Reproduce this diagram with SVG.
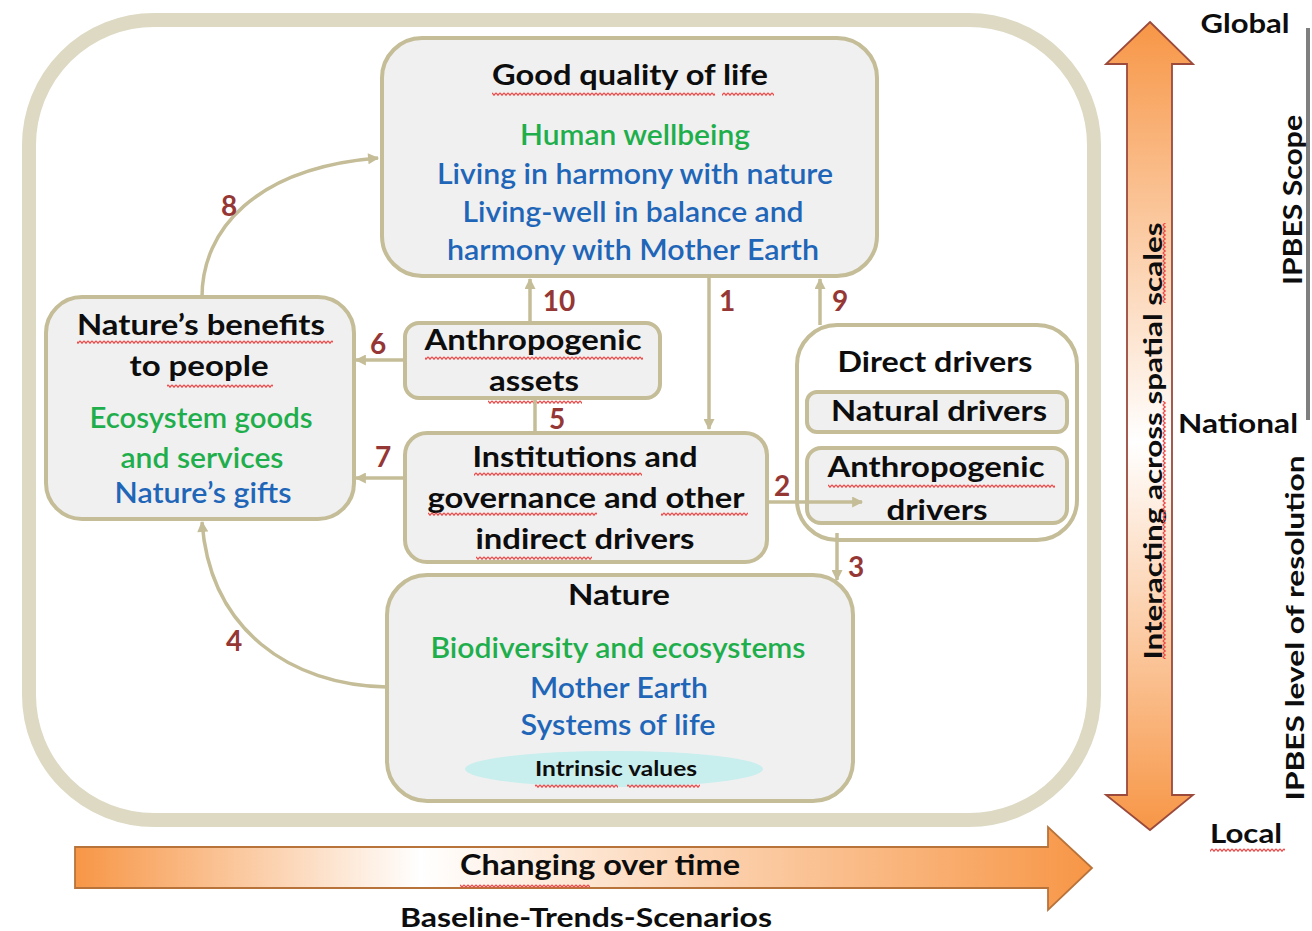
<svg xmlns="http://www.w3.org/2000/svg" width="1312" height="931" viewBox="0 0 1312 931">
<defs>
<style>
.box{fill:#f0f0f0;stroke:#c4bd97;stroke-width:4}
.boxw{fill:#ffffff;stroke:#c4bd97;stroke-width:4}
.t{font-family:Lato,"Liberation Sans",Arial,sans-serif;text-anchor:middle;font-weight:bold}
.k{fill:#0d0d0d;font-size:28px}
.g{fill:#1fae4c;font-size:28px;font-weight:600}
.b{fill:#1f66b8;font-size:28px;font-weight:600}
.n{fill:#953735;font-size:28px}
.c{fill:none;stroke:#c4bd97;stroke-width:3.5}
.sq{fill:url(#sq)}
</style>
<marker id="ah" viewBox="0 0 10 10" refX="9" refY="5" markerWidth="13" markerHeight="11" markerUnits="userSpaceOnUse" orient="auto">
<path d="M0,0 L10,5 L0,10 z" fill="#c4bd97"/>
</marker>
<linearGradient id="hg" gradientUnits="userSpaceOnUse" x1="75" y1="0" x2="1092" y2="0">
<stop offset="0" stop-color="#f79646"/>
<stop offset="0.34" stop-color="#ffffff"/>
<stop offset="1" stop-color="#f79646"/>
</linearGradient>
<linearGradient id="vg" gradientUnits="userSpaceOnUse" x1="0" y1="22" x2="0" y2="830">
<stop offset="0" stop-color="#f79646"/>
<stop offset="0.52" stop-color="#ffffff"/>
<stop offset="1" stop-color="#f79646"/>
</linearGradient>
<pattern id="sq" width="4" height="4" patternUnits="userSpaceOnUse">
<path d="M0,0.8 L2,3.2 L4,0.8" fill="none" stroke="#f04848" stroke-width="1.3"/>
</pattern>
</defs>
<rect width="1312" height="931" fill="#ffffff"/>

<g id="frame">
<rect x="29" y="20" width="1065" height="800" rx="125" ry="125" fill="none" stroke="#ddd9c3" stroke-width="14"/>
</g>

<g id="node-good-quality-of-life">
<rect class="box" x="382" y="38" width="495" height="238" rx="40"/>
<text class="t k" x="630" y="85" textLength="276" lengthAdjust="spacingAndGlyphs">Good quality of life</text>
<rect class="sq" x="492" y="92" width="223" height="4"/>
<rect class="sq" x="722" y="92" width="52" height="4"/>
<text class="t g" x="635" y="145" textLength="230" lengthAdjust="spacingAndGlyphs">Human wellbeing</text>
<text class="t b" x="635" y="184" textLength="396" lengthAdjust="spacingAndGlyphs">Living in harmony with nature</text>
<text class="t b" x="633" y="222" textLength="341" lengthAdjust="spacingAndGlyphs">Living-well in balance and</text>
<text class="t b" x="633" y="260" textLength="372" lengthAdjust="spacingAndGlyphs">harmony with Mother Earth</text>
</g>

<g id="node-natures-benefits">
<rect class="box" x="46" y="297" width="308" height="222" rx="36"/>
<text class="t k" x="201" y="335" textLength="248" lengthAdjust="spacingAndGlyphs">Nature’s benefits</text>
<rect class="sq" x="77" y="340" width="256" height="4"/>
<text class="t k" x="199" y="376" textLength="139" lengthAdjust="spacingAndGlyphs">to people</text>
<rect class="sq" x="167" y="384" width="106" height="4"/>
<text class="t g" x="201" y="428" textLength="223" lengthAdjust="spacingAndGlyphs">Ecosystem goods</text>
<text class="t g" x="202" y="468" textLength="163" lengthAdjust="spacingAndGlyphs">and services</text>
<text class="t b" x="203" y="503" textLength="177" lengthAdjust="spacingAndGlyphs">Nature’s gifts</text>
</g>

<g id="node-anthropogenic-assets">
<rect class="box" x="405" y="323" width="255" height="75" rx="14"/>
<text class="t k" x="533" y="350" textLength="217" lengthAdjust="spacingAndGlyphs">Anthropogenic</text>
<rect class="sq" x="425" y="356" width="218" height="4"/>
<text class="t k" x="534" y="391" textLength="90" lengthAdjust="spacingAndGlyphs">assets</text>
<rect class="sq" x="488" y="400" width="94" height="4"/>
</g>

<g id="node-institutions">
<rect class="box" x="405" y="433" width="362" height="129" rx="22"/>
<text class="t k" x="585" y="467" textLength="225" lengthAdjust="spacingAndGlyphs">Institutions and</text>
<rect class="sq" x="474" y="472" width="168" height="4"/>
<text class="t k" x="586" y="508" textLength="317" lengthAdjust="spacingAndGlyphs">governance and other</text>
<rect class="sq" x="428" y="512" width="169" height="4"/>
<rect class="sq" x="661" y="512" width="87" height="4"/>
<text class="t k" x="585" y="549" textLength="219" lengthAdjust="spacingAndGlyphs">indirect drivers</text>
<rect class="sq" x="476" y="556" width="116" height="4"/>
</g>

<g id="node-direct-drivers">
<rect class="boxw" x="797" y="325" width="280" height="215" rx="40"/>
<text class="t k" x="935" y="372" textLength="195" lengthAdjust="spacingAndGlyphs">Direct drivers</text>
</g>
<g id="node-natural-drivers">
<rect class="box" x="807" y="392" width="260" height="40" rx="10"/>
<text class="t k" x="939" y="421" textLength="216" lengthAdjust="spacingAndGlyphs">Natural drivers</text>
</g>
<g id="node-anthropogenic-drivers">
<rect class="box" x="807" y="448" width="260" height="75" rx="14"/>
<text class="t k" x="936" y="477" textLength="217" lengthAdjust="spacingAndGlyphs">Anthropogenic</text>
<rect class="sq" x="828" y="484" width="227" height="4"/>
<text class="t k" x="937" y="520" textLength="101" lengthAdjust="spacingAndGlyphs">drivers</text>
</g>

<g id="node-nature">
<rect class="box" x="387" y="575" width="466" height="226" rx="40"/>
<text class="t k" x="619" y="605" textLength="102" lengthAdjust="spacingAndGlyphs">Nature</text>
<text class="t g" x="618" y="658" textLength="375" lengthAdjust="spacingAndGlyphs">Biodiversity and ecosystems</text>
<text class="t b" x="619" y="698" textLength="178" lengthAdjust="spacingAndGlyphs">Mother Earth</text>
<text class="t b" x="618" y="735" textLength="195" lengthAdjust="spacingAndGlyphs">Systems of life</text>
<ellipse cx="614" cy="769" rx="149" ry="18" fill="#c8eeee"/>
<text class="t k" x="616" y="776" style="font-size:21px" textLength="162" lengthAdjust="spacingAndGlyphs">Intrinsic values</text>
<rect class="sq" x="535" y="784" width="83" height="4"/>
<rect class="sq" x="627" y="784" width="73" height="4"/>
</g>

<g id="connectors">
<path class="c" d="M202,297 C202,230 255,168 378,158" marker-end="url(#ah)"/>
<path class="c" d="M387,687 C290,685 210,630 202,522" marker-end="url(#ah)"/>
<path class="c" d="M530,323 L530,279" marker-end="url(#ah)"/>
<path class="c" d="M709,276 L709,429" marker-end="url(#ah)"/>
<path class="c" d="M820,325 L820,279" marker-end="url(#ah)"/>
<path class="c" d="M405,360 L356,360" marker-end="url(#ah)"/>
<path class="c" d="M405,478 L356,478" marker-end="url(#ah)"/>
<path class="c" d="M535,398 L535,433"/>
<path class="c" d="M767,502 L862,502" marker-end="url(#ah)"/>
<path class="c" d="M837,533 L837,580" marker-end="url(#ah)"/>
<text class="t n" x="229" y="216">8</text>
<text class="t n" x="234" y="651">4</text>
<text class="t n" x="559" y="311">10</text>
<text class="t n" x="727" y="311">1</text>
<text class="t n" x="840" y="311">9</text>
<text class="t n" x="378" y="354">6</text>
<text class="t n" x="383" y="467">7</text>
<text class="t n" x="557" y="429">5</text>
<text class="t n" x="782" y="496">2</text>
<text class="t n" x="856" y="577">3</text>
</g>

<g id="time-arrow">
<path d="M75,847 L1048,847 L1048,827 L1092,868 L1048,910 L1048,888 L75,888 Z" fill="url(#hg)" stroke="#b8733a" stroke-width="1.8"/>
<text class="t k" x="600" y="875" textLength="280" lengthAdjust="spacingAndGlyphs">Changing over time</text>
<rect class="sq" x="460" y="884" width="130" height="4"/>
<text class="t k" x="586" y="927" style="font-size:26px" textLength="372" lengthAdjust="spacingAndGlyphs">Baseline-Trends-Scenarios</text>
</g>

<g id="scale-arrow">
<path d="M1150,22 L1193,64 L1172,64 L1172,795 L1193,795 L1150,830 L1106,795 L1127,795 L1127,64 L1106,64 Z" fill="url(#vg)" stroke="#9b4a3c" stroke-width="1.8"/>
<g transform="translate(1162,441) rotate(-90)">
<text class="t k" x="0" y="0" style="font-size:25px" textLength="437" lengthAdjust="spacingAndGlyphs">Interacting across spatial scales</text>
<rect class="sq" x="-218" y="0" width="258" height="4"/>
<rect class="sq" x="138" y="0" width="80" height="4"/>
</g>
</g>

<g id="scale-labels">
<text class="t k" x="1245" y="33" style="font-size:26px" textLength="89" lengthAdjust="spacingAndGlyphs">Global</text>
<text class="t k" x="1238" y="433" style="font-size:26px" textLength="120" lengthAdjust="spacingAndGlyphs">National</text>
<text class="t k" x="1246" y="843" style="font-size:26px" textLength="72" lengthAdjust="spacingAndGlyphs">Local</text>
<rect class="sq" x="1210" y="848" width="75" height="4"/>
<line x1="1308" y1="28" x2="1308" y2="420" stroke="#7f7f7f" stroke-width="4"/>
<text class="t k" transform="translate(1302,200) rotate(-90)" x="0" y="0" style="font-size:27px" textLength="170" lengthAdjust="spacingAndGlyphs">IPBES Scope</text>
<text class="t k" transform="translate(1304,628) rotate(-90)" x="0" y="0" style="font-size:25px" textLength="345" lengthAdjust="spacingAndGlyphs">IPBES level of resolution</text>
</g>
</svg>
